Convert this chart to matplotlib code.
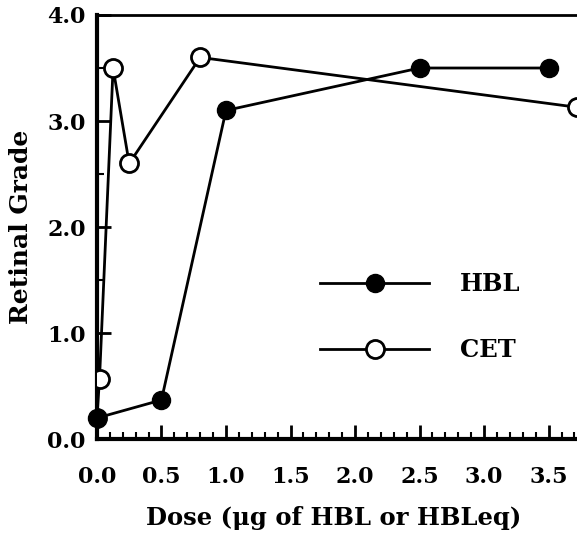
import matplotlib.pyplot as plt
from matplotlib.ticker import MultipleLocator

hbl_dose = [0.0, 0.5, 1.0, 2.5, 3.5]
hbl_grade = [0.2, 0.37, 3.1, 3.5, 3.5]
cet_dose = [0.0, 0.02, 0.125, 0.25, 0.8, 3.72]
cet_grade = [0.2, 0.57, 3.5, 2.6, 3.6, 3.13]

xticks = [0.0, 0.5, 1.0, 1.5, 2.0, 2.5, 3.0, 3.5]
yticks = [0.0, 1.0, 2.0, 3.0, 4.0]

plt.rcParams['font.family'] = 'DejaVu Serif'
plt.rcParams['font.weight'] = 'bold'

fig = plt.figure(figsize=(5.77, 5.35), dpi=100)
ax = fig.add_axes([0.168, 0.179, 0.832, 0.793])

ax.plot(cet_dose, cet_grade, color='black', lw=2, marker='o', ms=13,
        mfc='white', mec='black', mew=2, label='CET', clip_on=True, zorder=3)
ax.plot(hbl_dose, hbl_grade, color='black', lw=2, marker='o', ms=13,
        mfc='black', mec='black', label='HBL', clip_on=False, zorder=4)

ax.set_xlim(0, 3.72)
ax.set_ylim(0, 4.0)
ax.set_xticks(xticks)
ax.set_yticks(yticks)
ax.set_xticklabels([f'{v:.1f}' for v in xticks])
ax.set_yticklabels([f'{v:.1f}' for v in yticks])
ax.xaxis.set_minor_locator(MultipleLocator(0.1))
ax.yaxis.set_minor_locator(MultipleLocator(0.5))
ax.tick_params(which='major', direction='in', length=10, width=2, labelsize=16)
ax.tick_params(which='minor', direction='in', length=5, width=1.5)
ax.tick_params(axis='x', pad=19)
ax.tick_params(axis='y', pad=8)

for s in ['left', 'bottom']:
    ax.spines[s].set_linewidth(3)
ax.spines['top'].set_linewidth(2)
ax.spines['right'].set_visible(False)

fig.text(0.578, 0.018, 'Dose (μg of HBL or HBLeq)', ha='center', fontsize=17.5, fontweight='bold')
ax.set_ylabel('Retinal Grade', fontsize=18, fontweight='bold', labelpad=10)

h, l = ax.get_legend_handles_labels()
ax.legend(h[::-1], l[::-1], loc='upper left', bbox_to_anchor=(0.42, 0.445), frameon=False,
          handlelength=4.45, handletextpad=1.3, labelspacing=1.72, fontsize=17.5)

plt.savefig('out.png', dpi=100)
